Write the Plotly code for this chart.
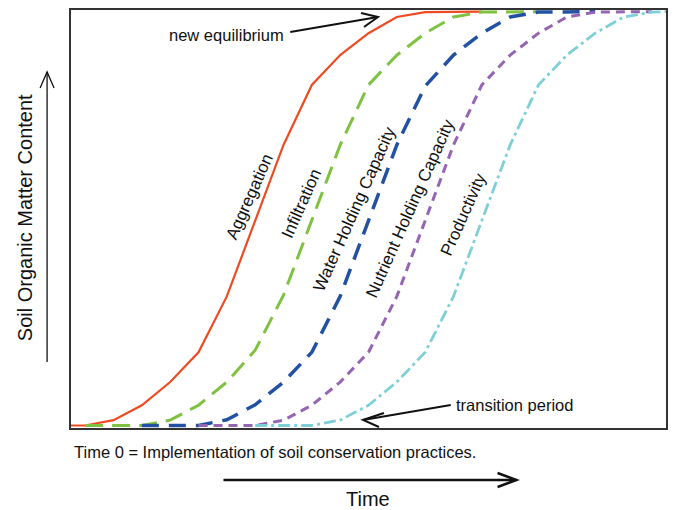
import plotly.graph_objects as go

# ---- data ----
series_names = ["Aggregation", "Infiltration", "Water Holding Capacity",
                "Nutrient Holding Capacity", "Productivity"]

agg_t = [0, 0.5, 1.5, 2.5, 3.5, 4.5, 5.5, 6.5, 7.5, 8.5, 9.5, 10.5, 11.5, 12.5, 13.5, 14.5]
agg_v = [0, 0, 1.3, 4.9, 10.5, 17.7, 31.2, 49.5, 67.8, 82.3, 89.5, 94.8, 98.7, 99.9, 100, 100]

inf_t = [0.5, 1.5, 2.5, 3.5, 4.5, 5.5, 6.5, 7.5, 8.5, 9.5, 10.5, 11.5, 12.5, 13.5, 14.5, 15.5, 16.5]
inf_v = [0, 0, 0, 1.3, 4.9, 10.5, 18.2, 31.5, 49.5, 67.8, 82.3, 89.5, 94.8, 98.7, 99.9, 100, 100]

whc_t = [2.5, 3.5, 4.5, 5.5, 6.5, 7.5, 8.5, 9.5, 10.5, 11.5, 12.5, 13.5, 14.5, 15.5, 16.5, 17.5, 18.5]
whc_v = [0, 0, 0, 1.4, 5.0, 10.5, 17.7, 31.2, 49.5, 67.8, 82.0, 89.5, 94.8, 98.7, 99.9, 100, 100]

nhc_t = [4.5, 5.5, 6.5, 7.5, 8.5, 9.5, 10.5, 11.5, 12.5, 13.5, 14.5, 15.5, 16.5, 17.5, 18.5, 19.5, 20.5]
nhc_v = [0, 0, 0, 1.3, 4.9, 10.5, 17.7, 31.2, 49.5, 67.8, 82.3, 89.5, 94.8, 98.7, 99.9, 100, 100]

prd_t = [6.5, 7.5, 8.5, 9.5, 10.5, 11.5, 12.5, 13.5, 14.5, 15.5, 16.5, 17.5, 18.5, 19.5, 20.5, 21]
prd_v = [0, 0, 0, 1.3, 4.9, 10.5, 17.7, 31.2, 49.5, 67.8, 82.3, 89.5, 94.8, 98.7, 99.9, 100]

colors = ["#EF4B23", "#7FC241", "#2251A3", "#9565B3", "#7ED0D6"]
dashes = ["solid", "18px,9px", "17px,10px", "9px,6px", "12px,4px,3px,4px"]
widths = [2.2, 3, 3.5, 3, 2.8]

FONT = "Liberation Sans, Arial, sans-serif"

fig = go.Figure()
for t, v, c, d, w, n in zip([agg_t, inf_t, whc_t, nhc_t, prd_t],
                            [agg_v, inf_v, whc_v, nhc_v, prd_v],
                            colors, dashes, widths, series_names):
    fig.add_trace(go.Scatter(x=t, y=v, mode="lines", name=n,
                             line=dict(color=c, dash=d, width=w),
                             showlegend=False, hoverinfo="skip"))

W, H = 673, 510
L, R, T, B = 71, 668, 10, 428


def px(x):
    return (x - L) / (R - L)


def py(y):
    return (B - y) / (B - T)


annotations = []


def label(text, x, y, size, angle=0, xanchor="center"):
    annotations.append(dict(text=text, x=px(x), y=py(y), xref="paper", yref="paper",
                            showarrow=False, textangle=angle, xanchor=xanchor,
                            yanchor="middle", font=dict(family=FONT, size=size, color="#111")))


curve_label_pos = [(250, 196), (302, 203), (355, 209), (411, 208), (465, 215)]
for name, (cx, cy) in zip(series_names, curve_label_pos):
    label(name, cx, cy, 17, angle=-66)

label("new equilibrium", 227, 35, 16.5)
label("transition period", 516, 405, 16.5)
label("Time 0 = Implementation of soil conservation practices.", 72, 452, 16.5, xanchor="left")
label("Time", 369, 499, 20)
label("Soil Organic Matter Content", 25, 218, 20, angle=-90)

shapes = []


def arrow(x0, y0, x1, y1, a1, a2, width):
    shapes.append(dict(type="line", xref="paper", yref="paper",
                       x0=px(x0), y0=py(y0), x1=px(x1), y1=py(y1),
                       line=dict(color="#111", width=width)))
    path = "M {},{} L {},{} L {},{}".format(px(a1[0]), py(a1[1]), px(x1), py(y1),
                                             px(a2[0]), py(a2[1]))
    shapes.append(dict(type="path", xref="paper", yref="paper", path=path,
                       line=dict(color="#111", width=width)))


arrow(291, 32, 379, 17, (362, 13), (365, 27), 2)
arrow(452, 405, 364, 420, (385, 413), (380, 427), 2)
arrow(47, 362, 47, 72, (40, 88), (54, 88), 1.3)
arrow(224, 480, 518, 480, (499, 473), (499, 487), 2.4)

fig.update_layout(
    width=W, height=H,
    margin=dict(l=L, r=W - R, t=T, b=H - B),
    paper_bgcolor="white", plot_bgcolor="white",
    annotations=annotations, shapes=shapes,
    xaxis=dict(range=[0, 21], showgrid=False, zeroline=False, showticklabels=False,
               ticks="", showline=True, mirror=True, linecolor="#333", linewidth=1.5),
    yaxis=dict(range=[-0.6, 100.4], showgrid=False, zeroline=False, showticklabels=False,
               ticks="", showline=True, mirror=True, linecolor="#333", linewidth=1.5),
)

fig.write_html("out.html", config={"displayModeBar": False},
               post_script="document.body.style.margin='0';document.body.style.overflow='hidden';")
